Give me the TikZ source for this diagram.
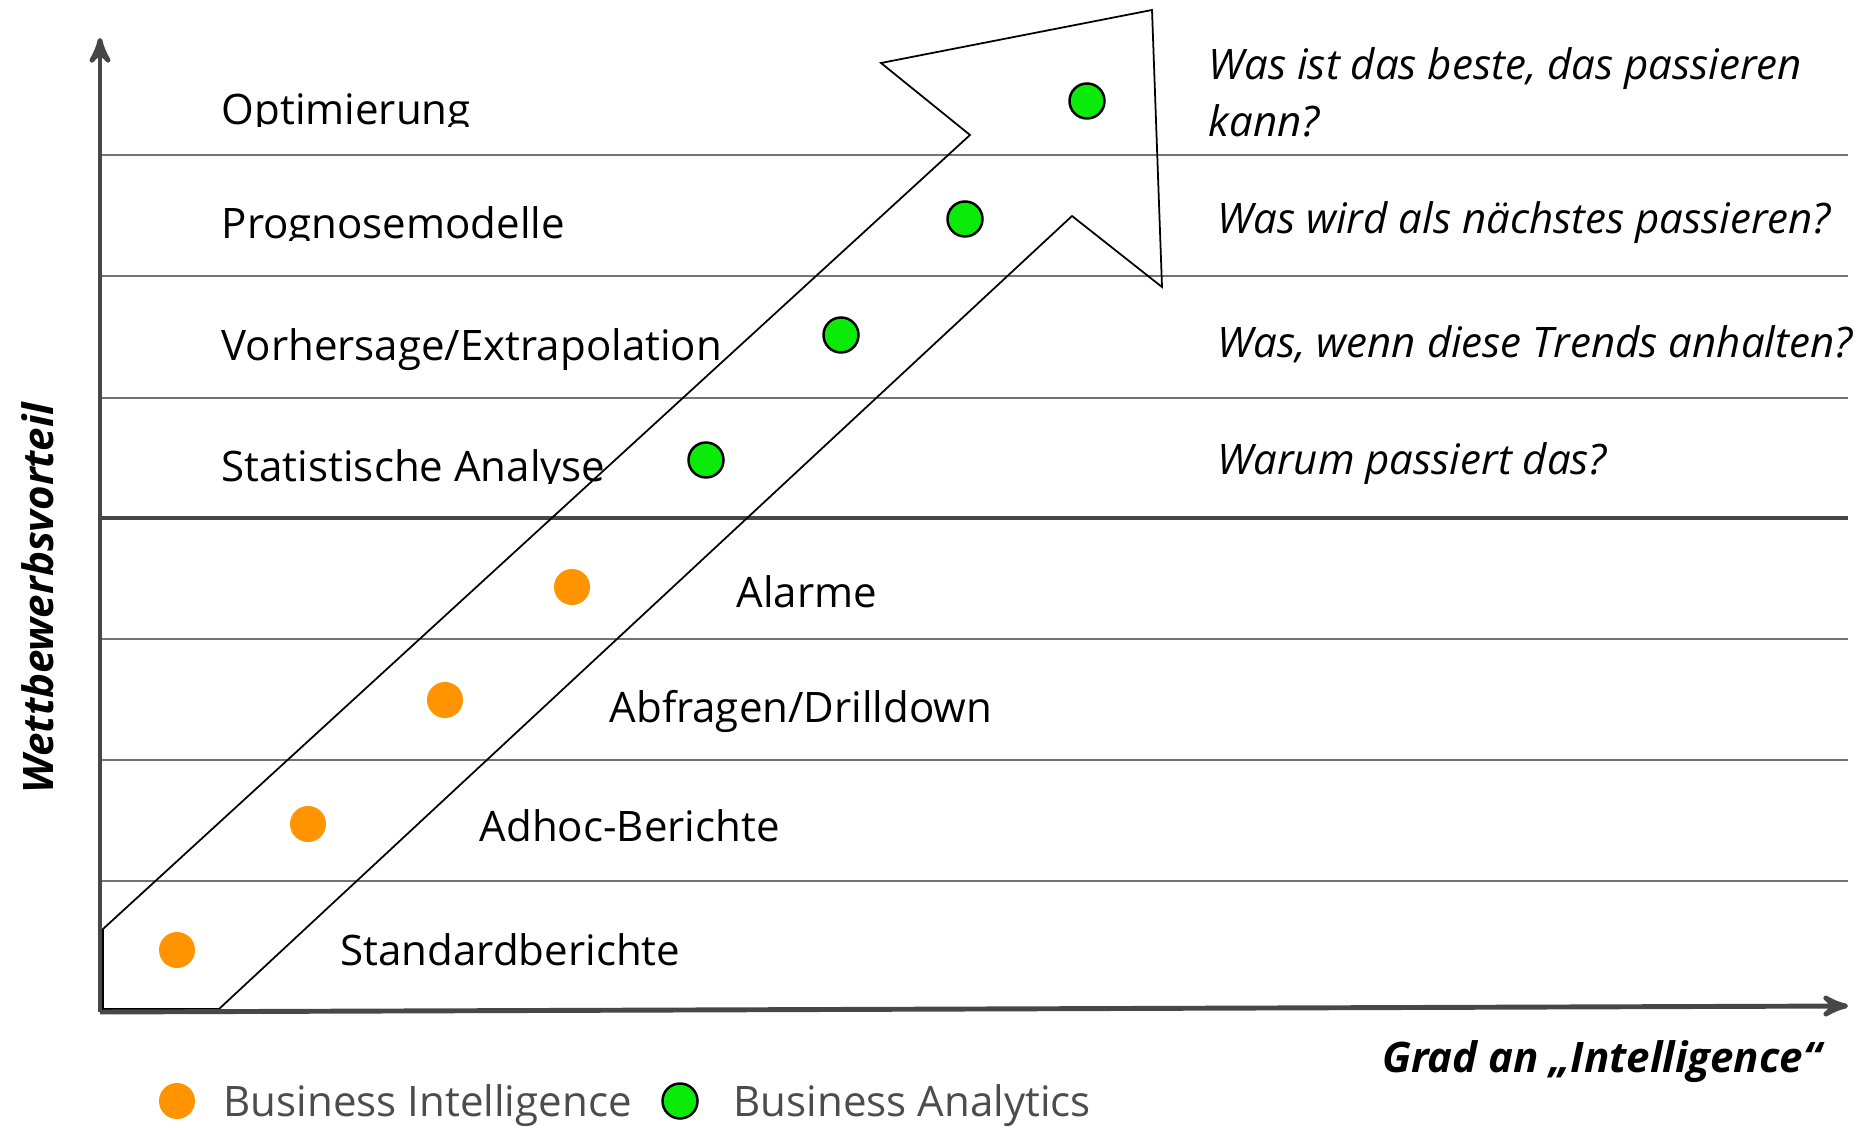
\documentclass[tikz,border=0pt]{standalone}
\usepackage{fontspec}
\setmainfont{Open Sans}
\usetikzlibrary{arrows}
\definecolor{biorange}{RGB}{255,148,0}
\definecolor{bagreen}{RGB}{10,235,10}
\tikzset{every picture/.style={/utils/exec={\fontsize{11.95}{14}\selectfont}}}
\tikzset{axis/.style={-stealth', line width=1.4pt, black!72}}
\tikzset{level/.style={line width=0.6pt, black!55}}
\tikzset{stage/.style={anchor=base west, inner sep=0pt}}
\tikzset{question/.style={anchor=base west, inner sep=0pt, font=\itshape}}
\tikzset{bidot/.style={circle, fill=biorange, minimum size=0.36cm, inner sep=0pt}}
\tikzset{badot/.style={circle, draw=black, line width=0.7pt, fill=bagreen, minimum size=0.35cm, inner sep=0pt}}

\begin{document}
\begin{tikzpicture}[x=0.01cm, y=-0.01cm]
    \useasboundingbox (0,0) rectangle (1867,1128);
    % levels
    \foreach \y in {155,276,398,639,760,881}
        \draw [level] (100,\y) -- (1848,\y);
    \draw [level, line width=1.1pt, black!72] (100,518) -- (1848,518);
    % the big arrow
    \coordinate (a1) at (103,929);
    \coordinate (a2) at (103,1009);
    \coordinate (a3) at (219,1009);
    \coordinate (a4) at (1072,216);
    \coordinate (a5) at (1162,287);
    \coordinate (a6) at (1152,10);
    \coordinate (a7) at (881,63);
    \coordinate (a8) at (970,135);
    \draw [line width=0.5pt] (a1) -- (a2) -- (a3) -- (a4) -- (a5) -- (a6) -- (a7) -- (a8) -- cycle;
    % axes
    \coordinate (origin) at (100,1012);
    \coordinate (ytip) at (100,38);
    \coordinate (xtip) at (1848,1006);
    \draw [axis] (origin) -- (ytip);
    \draw [axis] (origin) -- (xtip);
    \node [rotate=90, anchor=base, font=\bfseries\itshape] (ylabel) at (53,598) {Wettbewerbsvorteil};
    \node [anchor=base east, font=\bfseries\itshape] (xlabel) at (1836,1072) {Grad an „Intelligence“};
    % analytics stages
    \begin{scope}
        \clip (200,40) rectangle (800,127);
        \node [stage] (optimierung) at (221,125) {Optimierung};
    \end{scope}
    \begin{scope}
        \clip (200,160) rectangle (800,241);
        \node [stage] (prognose) at (221,239) {Prognosemodelle};
    \end{scope}
    \node [stage] (vorhersage) at (221,361) {Vorhersage/Extrapolation};
    \begin{scope}
        \clip (200,400) rectangle (800,484);
        \node [stage] (statistik) at (221,482) {Statistische Analyse};
    \end{scope}
    % intelligence stages
    \node [stage] (alarme) at (736,607) {Alarme};
    \node [stage] (abfragen) at (609,722) {Abfragen/Drilldown};
    \node [stage] (adhoc) at (479,841) {Adhoc-Berichte};
    \node [stage] (standard) at (340,965) {Standardberichte};
    % questions
    \node [question] (q4a) at (1208,80) {Was ist das beste, das passieren};
    \node [question] (q4b) at (1208,137) {kann?};
    \node [question] (q3) at (1217,234) {Was wird als nächstes passieren?};
    \node [question] (q2) at (1217,358) {Was, wenn diese Trends anhalten?};
    \node [question] (q1) at (1217,475) {Warum passiert das?};
    % dots
    \node [badot] (ba4) at (1087,101) {};
    \node [badot] (ba3) at (965,219) {};
    \node [badot] (ba2) at (841,335) {};
    \node [badot] (ba1) at (706,460) {};
    \node [bidot] (bi4) at (572,587) {};
    \node [bidot] (bi3) at (445,700) {};
    \node [bidot] (bi2) at (308,824) {};
    \node [bidot] (bi1) at (177,950) {};
    % legend
    \node [bidot] (bikey) at (177,1101) {};
    \node [stage, black!70] (bitext) at (223,1116) {Business Intelligence};
    \node [badot] (bakey) at (680,1101) {};
    \node [stage, black!70] (batext) at (733,1116) {Business Analytics};
\end{tikzpicture}
\end{document}
